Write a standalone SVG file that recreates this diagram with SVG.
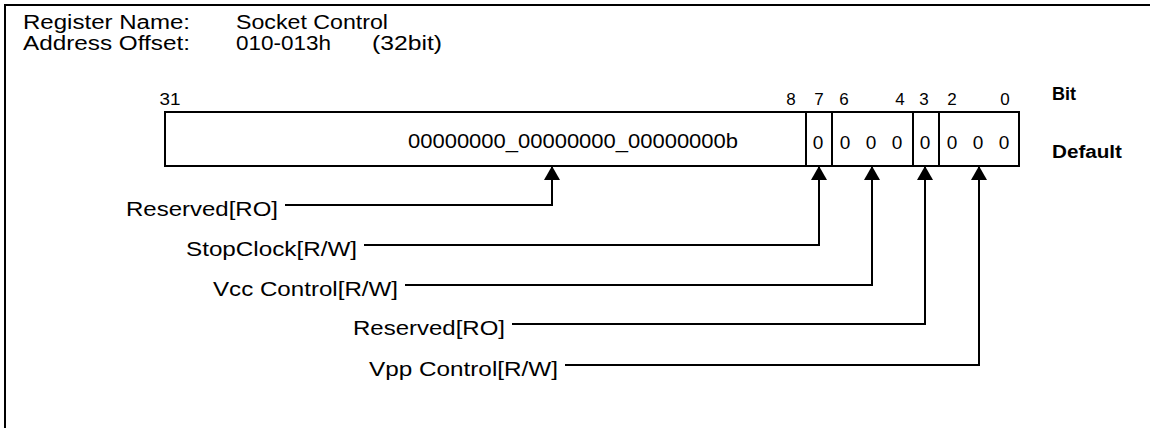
<svg xmlns="http://www.w3.org/2000/svg" width="1150" height="428" viewBox="0 0 1150 428">
<defs>
<style>
text{font-family:"Liberation Sans",Arial,sans-serif;font-size:21px;fill:#000}
.h{font-size:20px}
.n{font-size:17px;text-anchor:middle}
.z{font-size:19px;text-anchor:middle}
.b{font-weight:bold;font-size:18px}
.ln{fill:none;stroke:#000;stroke-width:2}
</style>
<marker id="ah" markerUnits="userSpaceOnUse" viewBox="0 0 14 16" refX="14" refY="8" markerWidth="14" markerHeight="16" orient="auto">
<path d="M0,0 L14,8 L0,16 z" fill="#000"/>
</marker>
</defs>
<rect width="1150" height="428" fill="#fff"/>
<path class="ln" d="M5,428 V5 H1150"/>
<g id="header">
<text class="h" x="23" y="29" textLength="167" lengthAdjust="spacingAndGlyphs">Register Name:</text>
<text class="h" x="236" y="29" textLength="152" lengthAdjust="spacingAndGlyphs">Socket Control</text>
<text class="h" x="23" y="50" textLength="167" lengthAdjust="spacingAndGlyphs">Address Offset:</text>
<text class="h" x="236" y="50" textLength="95" lengthAdjust="spacingAndGlyphs">010-013h</text>
<text class="h" x="372" y="50" textLength="70" lengthAdjust="spacingAndGlyphs">(32bit)</text>
</g>
<g id="register">
<rect class="ln" x="165" y="112" width="854" height="54"/>
<path class="ln" d="M806,112 V166 M832,112 V166 M913,112 V166 M939,112 V166"/>
<text class="n" x="170" y="105" textLength="21" lengthAdjust="spacingAndGlyphs">31</text>
<text class="n" x="791" y="105">8</text>
<text class="n" x="819" y="105">7</text>
<text class="n" x="844" y="105">6</text>
<text class="n" x="900" y="105">4</text>
<text class="n" x="924" y="105">3</text>
<text class="n" x="952" y="105">2</text>
<text class="n" x="1005" y="105">0</text>
<text x="408" y="148" textLength="330" lengthAdjust="spacingAndGlyphs">00000000_00000000_00000000b</text>
<text class="z" x="818" y="149">0</text>
<text class="z" x="845" y="149">0</text>
<text class="z" x="871" y="149">0</text>
<text class="z" x="897" y="149">0</text>
<text class="z" x="925" y="149">0</text>
<text class="z" x="952" y="149">0</text>
<text class="z" x="978" y="149">0</text>
<text class="z" x="1004" y="149">0</text>
<text class="b" x="1052" y="100">Bit</text>
<text class="b" x="1052" y="158" textLength="70" lengthAdjust="spacingAndGlyphs">Default</text>
</g>
<g id="label-reserved-31-8"><text x="126" y="216" textLength="152" lengthAdjust="spacingAndGlyphs">Reserved[RO]</text></g>
<g id="label-stopclock"><text x="186" y="256" textLength="171" lengthAdjust="spacingAndGlyphs">StopClock[R/W]</text></g>
<g id="label-vcc"><text x="213" y="296" textLength="185" lengthAdjust="spacingAndGlyphs">Vcc Control[R/W]</text></g>
<g id="label-reserved-3"><text x="353" y="335" textLength="152" lengthAdjust="spacingAndGlyphs">Reserved[RO]</text></g>
<g id="label-vpp"><text x="369" y="376" textLength="189" lengthAdjust="spacingAndGlyphs">Vpp Control[R/W]</text></g>
<g id="connectors">
<path class="ln" d="M285,205 H552 V166" marker-end="url(#ah)"/>
<path class="ln" d="M364,245 H819 V166" marker-end="url(#ah)"/>
<path class="ln" d="M405,285 H872 V166" marker-end="url(#ah)"/>
<path class="ln" d="M512,324 H925 V166" marker-end="url(#ah)"/>
<path class="ln" d="M565,365 H979 V166" marker-end="url(#ah)"/>
</g>
</svg>
